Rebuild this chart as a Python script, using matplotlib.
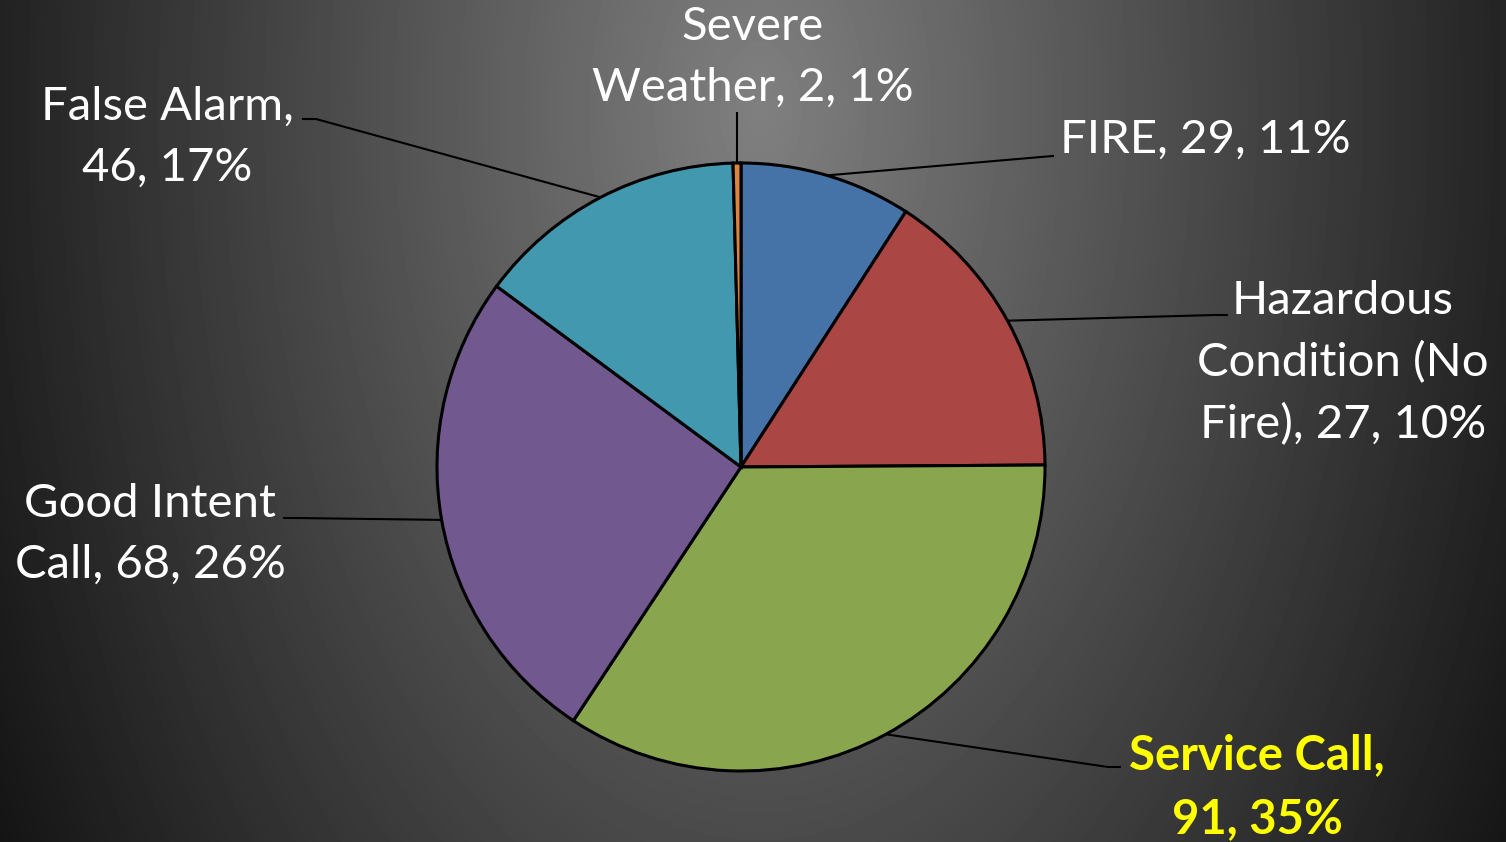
import numpy as np
import matplotlib
matplotlib.use("Agg")
import matplotlib.pyplot as plt

# wedge sizes as drawn (the slices) and the counts printed in the labels
names = ["FIRE", "Hazardous\nCondition (No\nFire)", "Service Call,\n", "Good Intent\nCall", "False Alarm,\n", "Severe\nWeather"]
wedge_sizes = [24, 41.5, 90.5, 68, 38, 1.1]
counts = [29, 27, 91, 68, 46, 2]
colors = ["#4572A7", "#AA4643", "#89A54E", "#71588F", "#4198AF", "#DB843D"]

W, H = 1506, 842
cx, cy, R = 741, 467, 304

# label block centre (pixels), alignment, leader end, elbow
label_pos = [(1060, 140, "left"), (1343, 363, "center"), (1257, 787, "center"),
             (150, 534, "center"), (167, 137, "center"), (753, 57, "center")]
leader_end = [(1053, 156), (1227, 315), (1120, 767), (284, 518), (303, 119), (737, 113)]
leader_elbow = [(1041, 157), (1215, 315), (1108, 767), (296, 518), (316, 119), None]

fig = plt.figure(figsize=(W/100, H/100), dpi=100)

# background radial gradient
bg = fig.add_axes([0, 0, 1, 1])
yy, xx = np.mgrid[0:H, 0:W]
r = np.sqrt(((xx - 760)/750.0)**2 + ((yy - 110)/1268.0)**2)
v = np.clip(0.5 - 0.36*r, 0.07, 1)
bg.imshow(v, cmap="gray", vmin=0, vmax=1, extent=[0, W, H, 0], aspect="auto", interpolation="bilinear")
bg.set_xlim(0, W)
bg.set_ylim(H, 0)
bg.axis("off")

ax = fig.add_axes([(cx - R)/W, (H - cy - R)/H, 2*R/W, 2*R/H])
wedges, _ = ax.pie(wedge_sizes, colors=colors, startangle=90, counterclock=False, radius=1,
                   wedgeprops=dict(edgecolor="black", linewidth=2.2))
ax.set_xlim(-1, 1)
ax.set_ylim(-1, 1)
ax.axis("off")

total = sum(counts)
font = ["Lato", "DejaVu Sans"]
for i, w in enumerate(wedges):
    pct = round(counts[i]/total*100)
    if i == 2:
        txt = "Service Call,\n%d, %d%%" % (counts[i], pct)
    elif i == 4:
        txt = "False Alarm,\n%d, %d%%" % (counts[i], pct)
    else:
        txt = "%s, %d, %d%%" % (names[i], counts[i], pct)
    x, y, ha = label_pos[i]
    bg.text(x, y, txt, ha=ha, va="center", multialignment="center",
            color="yellow" if i == 2 else "white", fontsize=34,
            fontweight="bold" if i == 2 else "normal", family=font, linespacing=1.55)
    mid = np.radians((w.theta1 + w.theta2)/2)
    px, py = cx + R*np.cos(mid), cy - R*np.sin(mid)
    pts = [(px, py)]
    if leader_elbow[i] is not None:
        pts.append(leader_elbow[i])
    pts.append(leader_end[i])
    pts = np.array(pts)
    bg.plot(pts[:, 0], pts[:, 1], color="black", lw=1.5)

fig.savefig("out.png", dpi=100)
